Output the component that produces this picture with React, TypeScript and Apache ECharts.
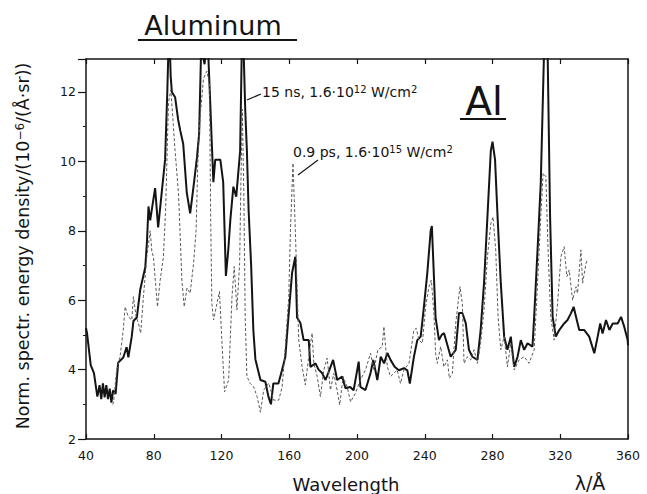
import React, { useEffect, useRef } from "react";
import * as echarts from "echarts";

const xTicks = [40, 80, 120, 160, 200, 240, 280, 320, 360];
const yTicks = [2, 4, 6, 8, 10, 12];

// 15 ns, 1.6·10^12 W/cm² (solid)
const nsWavelength = [
  40, 40.6, 42.8, 44.7, 46.7, 48, 49, 50, 51, 52, 53, 54, 55, 56, 57.5, 59, 62, 64, 65, 67, 68, 70, 72, 75, 76,
  76.9, 77.9, 80.8, 82.6, 84.7, 86.7, 88, 88.7, 89.5, 90, 90.7, 92.6, 94.4, 95.6, 97.4, 99.5, 101.5, 103.3, 105.5,
  106.8, 108, 110, 111, 112, 113.5, 114.3, 115.2, 116.3, 119.3, 121, 122.6, 124, 125.2, 127, 128.7, 131, 132, 133,
  134, 135, 136, 137.5, 138.8, 140, 143, 145.9, 147.7, 149.2, 150.6, 153.6, 155.7, 157.7, 159.5, 161.7, 163.6,
  164.6, 166.6, 168.5, 171.5, 172.5, 175.5, 177.3, 179.4, 181.4, 183, 185.9, 188.3, 191.2, 193.2, 196, 198, 201,
  202, 205, 208, 209.6, 212, 214, 216, 217.9, 219.8, 222.2, 224.7, 227.7, 229.7, 231.2, 233.6, 235.6, 237.6, 239.5,
  241.5, 243.5, 244.2, 246.4, 248.4, 250, 251.4, 253.4, 255.3, 258.3, 260.2, 262.2, 264.2, 266.1, 268.1, 271.1, 273,
  275, 277, 279, 280, 281.5, 283, 284.9, 286.9, 288.8, 290.8, 292.8, 294.8, 296.7, 298.7, 300.7, 303.6, 304.6,
  306.6, 308.5, 310.5, 312.5, 314, 315.5, 317.4, 319.4, 322.3, 324.3, 326.3, 327.9, 329.3, 331.2, 334.2, 337.1,
  340.1, 342.1, 343.6, 345, 347, 349, 351, 353.9, 355.9, 357.8, 359.8, 360,
];
const nsIntensity = [
  5.2, 5.05, 4.13, 3.9, 3.22, 3.55, 3.15, 3.6, 3.2, 3.55, 3.15, 3.45, 3.05, 3.4, 3.3, 4.2, 4.35, 4.65, 4.35, 4.95,
  5.4, 5.5, 6.3, 6.95, 7.7, 8.7, 8.3, 9.23, 8.1, 9.1, 10.05, 12.0, 13.3, 13.3, 12.45, 12.0, 11.85, 11.2, 10.9, 10.5,
  9.1, 8.5, 9.2, 10.1, 10.8, 13.3, 12.8, 13.3, 13.3, 11.5, 10.5, 9.4, 10.05, 10.05, 9.4, 6.7, 7.45, 8.3, 9.27, 8.98,
  10.3, 13.3, 13.3, 11.5, 10.3, 8.6, 7.0, 5.14, 4.3, 3.7, 3.65, 3.22, 3.0, 3.6, 3.6, 3.98, 4.37, 5.5, 6.8, 7.25, 5.5,
  5.34, 4.85, 4.85, 4.08, 4.18, 4.0, 3.9, 3.7, 3.9, 4.28, 3.7, 3.8, 3.46, 3.5, 3.4, 4.23, 3.5, 3.41, 3.9, 4.28, 3.7,
  4.37, 4.18, 4.48, 4.28, 4.08, 3.98, 4.04, 3.98, 3.6, 4.37, 4.85, 4.95, 5.81, 6.78, 8.0, 8.14, 5.5, 4.85, 5.0, 5.05,
  4.7, 4.37, 4.57, 5.63, 5.63, 5.34, 4.57, 4.37, 4.28, 5.14, 6.49, 8.4, 10.3, 10.57, 10.05, 8.4, 6.49, 4.95, 4.57,
  4.95, 4.08, 4.37, 4.85, 4.57, 4.76, 4.66, 5.52, 7.45, 9.38, 13.3, 13.3, 8.4, 5.52, 4.95, 5.14, 5.33, 5.43, 5.62,
  5.81, 5.52, 5.14, 5.14, 4.95, 4.47, 4.95, 5.33, 5.04, 5.43, 5.14, 5.33, 5.33, 5.52, 5.23, 4.85, 4.7,
];

// 0.9 ps, 1.6·10^15 W/cm² (dashed)
const psWavelength = [
  55.5, 56.2, 58.1, 60.1, 62, 63.1, 65, 67, 68, 69.6, 71, 72.3, 73.9, 75.9, 77.9, 78.9, 79.8, 82.2, 83.8, 85.7, 87,
  88.7, 90.1, 92.6, 94.6, 95.5, 96.6, 98, 99.6, 101.5, 103.5, 105, 106, 107.4, 109.4, 111.4, 112.9, 113.6, 114.3,
  115.3, 116.9, 118.8, 120.2, 121.8, 124.2, 126.2, 127.5, 129.1, 130.7, 131.5, 132.3, 133.2, 134, 135, 137, 139,
  141, 143, 144.9, 147.9, 150.8, 153.8, 155.8, 157.7, 159.7, 160.7, 162.2, 163.6, 165.6, 167.6, 169.5, 171.5,
  173.5, 174.5, 176.5, 178.4, 180.4, 182.4, 184.3, 186.3, 187.9, 189.8, 191.8, 194.2, 196.2, 199.1, 202, 205, 208,
  210, 212.3, 214.9, 215.9, 217.9, 219.8, 223.7, 225.7, 227.7, 230.7, 233.6, 235, 236.6, 238.6, 240.5, 242.5,
  243.9, 245.4, 246.4, 247.4, 249.4, 251.3, 253.4, 254.5, 256.3, 258.3, 260.8, 262.2, 263.2, 265.2, 267.1, 269.1,
  271.1, 273, 275, 277, 279, 280.3, 281.9, 283.3, 284.9, 286.9, 288.8, 290.8, 292.8, 295.7, 298.7, 301.6, 304.6,
  306.6, 308.5, 309.9, 311.5, 312.8, 314.4, 316.4, 318.4, 320.4, 322.3, 323.9, 325.3, 327.3, 329.3, 330.2, 332.2,
  333.2, 335.2, 336,
];
const psIntensity = [
  3.0, 3.03, 3.99, 4.37, 5.14, 5.81, 5.52, 5.43, 6.1, 5.52, 5.33, 5.05, 6.1, 7.25, 8.0, 7.4, 7.25, 5.81, 6.58, 7.25,
  8.6, 11.7, 12.06, 10.3, 9.08, 8.0, 6.58, 5.81, 6.35, 6.2, 7.06, 8.0, 9.95, 11.3, 12.4, 12.6, 12.2, 8.4, 5.9, 5.43,
  5.81, 6.25, 4.85, 3.36, 3.7, 6.1, 6.97, 5.72, 7.06, 9.5, 11.5, 9.0, 5.5, 3.8, 3.6, 3.5, 3.22, 2.77, 3.41, 3.61,
  3.12, 3.12, 3.5, 4.66, 6.1, 8.0, 9.95, 8.0, 4.85, 4.08, 3.56, 4.37, 5.05, 4.18, 3.8, 3.22, 3.99, 4.33, 3.41, 3.89,
  3.5, 2.98, 3.8, 3.5, 3.07, 3.32, 3.7, 3.99, 4.47, 3.99, 4.57, 4.66, 5.24, 4.08, 3.8, 3.99, 3.6, 3.99, 4.18, 5.14,
  5.19, 4.85, 4.76, 5.81, 6.39, 6.58, 5.62, 4.47, 4.18, 4.66, 4.08, 4.28, 3.75, 3.89, 5.34, 6.39, 5.9, 4.18, 4.37,
  4.28, 4.57, 4.18, 4.76, 5.72, 7.25, 8.2, 8.4, 7.45, 5.52, 4.57, 4.95, 4.08, 4.76, 3.99, 4.28, 4.37, 4.18, 4.57,
  6.49, 8.4, 9.66, 9.56, 7.45, 5.52, 4.85, 5.9, 7.25, 7.54, 6.68, 6.87, 6.0, 6.39, 6.2, 7.45, 6.49, 7.06, 7.16,
];

const FONT = "DejaVu Sans";
const INK = "#141414";

export default function App() {
  const ref = useRef<HTMLDivElement>(null);
  useEffect(() => {
    if (!ref.current) return;
    const chart = echarts.init(ref.current, null, { renderer: "svg" });
    const nsData = nsWavelength.map((x, i) => [x, nsIntensity[i]]);
    const psData = psWavelength.map((x, i) => [x, psIntensity[i]]);
    const yMin = yTicks[0];
    const xMin = xTicks[0];
    const xMax = xTicks[xTicks.length - 1];
    const evenLabel = (v: number) =>
      Math.abs(v - Math.round(v)) < 1e-6 && yTicks.includes(Math.round(v)) ? String(Math.round(v)) : "";
    const supStyle = { fontFamily: FONT, fontSize: 10, verticalAlign: "top", fill: INK, padding: [0, 0, 6, 0] };
    chart.setOption({
      animation: false,
      backgroundColor: "#ffffff",
      grid: { left: 86, right: 19, top: 59, bottom: 55 },
      xAxis: [
        {
          type: "value",
          position: "bottom",
          min: xMin,
          max: xMax,
          interval: 40,
          axisLine: { show: true, lineStyle: { color: INK, width: 1.5 } },
          axisTick: { show: true, inside: true, length: 5, lineStyle: { color: INK, width: 1.2 } },
          axisLabel: { margin: 10, fontFamily: FONT, fontSize: 12.5, color: INK },
          splitLine: { show: false },
        },
        {
          type: "value",
          position: "top",
          min: xMin,
          max: xMax,
          interval: 40,
          axisLine: { show: true, lineStyle: { color: INK, width: 1.5 } },
          axisTick: { show: true, inside: true, length: 5, lineStyle: { color: INK, width: 1.2 } },
          axisLabel: { show: false },
          splitLine: { show: false },
        },
      ],
      yAxis: [
        {
          type: "value",
          position: "left",
          min: yMin,
          max: 12.95,
          interval: 2,
          axisLine: { show: true, lineStyle: { color: INK, width: 1.5 } },
          axisTick: { show: true, inside: false, length: 8, lineStyle: { color: INK, width: 1.2 } },
          axisLabel: { margin: 10, fontFamily: FONT, fontSize: 12.5, color: INK, formatter: evenLabel },
          splitLine: { show: false },
        },
        {
          type: "value",
          position: "left",
          min: yMin,
          max: 12.95,
          interval: 1,
          axisLine: { show: false },
          axisTick: { show: true, inside: false, length: 3, lineStyle: { color: INK, width: 1 } },
          axisLabel: { show: false },
          splitLine: { show: false },
        },
        {
          type: "value",
          position: "right",
          min: yMin,
          max: 12.95,
          interval: 2,
          axisLine: { show: true, lineStyle: { color: INK, width: 1.5 } },
          axisTick: { show: false },
          axisLabel: { show: false },
          splitLine: { show: false },
        },
      ],
      series: [
        {
          name: "15 ns, 1.6·10¹² W/cm²",
          type: "line",
          xAxisIndex: 0,
          yAxisIndex: 0,
          data: nsData,
          showSymbol: false,
          clip: true,
          lineStyle: { color: INK, width: 2 },
        },
        {
          name: "0.9 ps, 1.6·10¹⁵ W/cm²",
          type: "line",
          xAxisIndex: 0,
          yAxisIndex: 0,
          data: psData,
          showSymbol: false,
          clip: true,
          lineStyle: { color: "#5a5a5a", width: 1, type: [3, 2] },
        },
      ],
      graphic: [
        {
          type: "text",
          x: 213,
          y: 25,
          style: { text: "Aluminum", align: "center", verticalAlign: "middle", fontFamily: FONT, fontSize: 27, fill: INK },
        },
        { type: "line", shape: { x1: 138, y1: 40, x2: 297, y2: 40 }, style: { stroke: INK, lineWidth: 2 } },
        {
          type: "text",
          x: 484,
          y: 101,
          style: { text: "Al", align: "center", verticalAlign: "middle", fontFamily: FONT, fontSize: 39, fill: INK },
        },
        { type: "line", shape: { x1: 460, y1: 119, x2: 506, y2: 119 }, style: { stroke: INK, lineWidth: 2 } },
        {
          type: "text",
          x: 262,
          y: 92,
          style: {
            text: "15 ns, 1.6·10{s|12} W/cm{s|2}",
            align: "left",
            verticalAlign: "middle",
            fontFamily: FONT,
            fontSize: 14,
            fill: INK,
            rich: { s: supStyle },
          },
        },
        { type: "line", shape: { x1: 247, y1: 100, x2: 261, y2: 94 }, style: { stroke: INK, lineWidth: 1.2 } },
        {
          type: "text",
          x: 293,
          y: 152,
          style: {
            text: "0.9 ps, 1.6·10{s|15} W/cm{s|2}",
            align: "left",
            verticalAlign: "middle",
            fontFamily: FONT,
            fontSize: 14,
            fill: INK,
            rich: { s: supStyle },
          },
        },
        { type: "line", shape: { x1: 298, y1: 175, x2: 318, y2: 160 }, style: { stroke: INK, lineWidth: 1.2 } },
        {
          type: "text",
          x: 23,
          y: 246,
          rotation: Math.PI / 2,
          style: {
            text: "Norm. spectr. energy density/(10{t|−6}/(Å·sr))",
            align: "center",
            verticalAlign: "middle",
            fontFamily: FONT,
            fontSize: 17.5,
            fill: INK,
            rich: { t: { fontFamily: FONT, fontSize: 12, verticalAlign: "top", fill: INK, padding: [0, 0, 7, 0] } },
          },
        },
        {
          type: "text",
          x: 346,
          y: 484,
          style: { text: "Wavelength", align: "center", verticalAlign: "middle", fontFamily: FONT, fontSize: 18, fill: INK },
        },
        {
          type: "text",
          x: 590,
          y: 483,
          style: { text: "λ/Å", align: "center", verticalAlign: "middle", fontFamily: FONT, fontSize: 19, fill: INK },
        },
      ],
    });
    return () => chart.dispose();
  }, []);
  return <div ref={ref} style={{ position: "fixed", left: 0, top: 0, width: 647, height: 494, background: "#fff" }} />;
}
